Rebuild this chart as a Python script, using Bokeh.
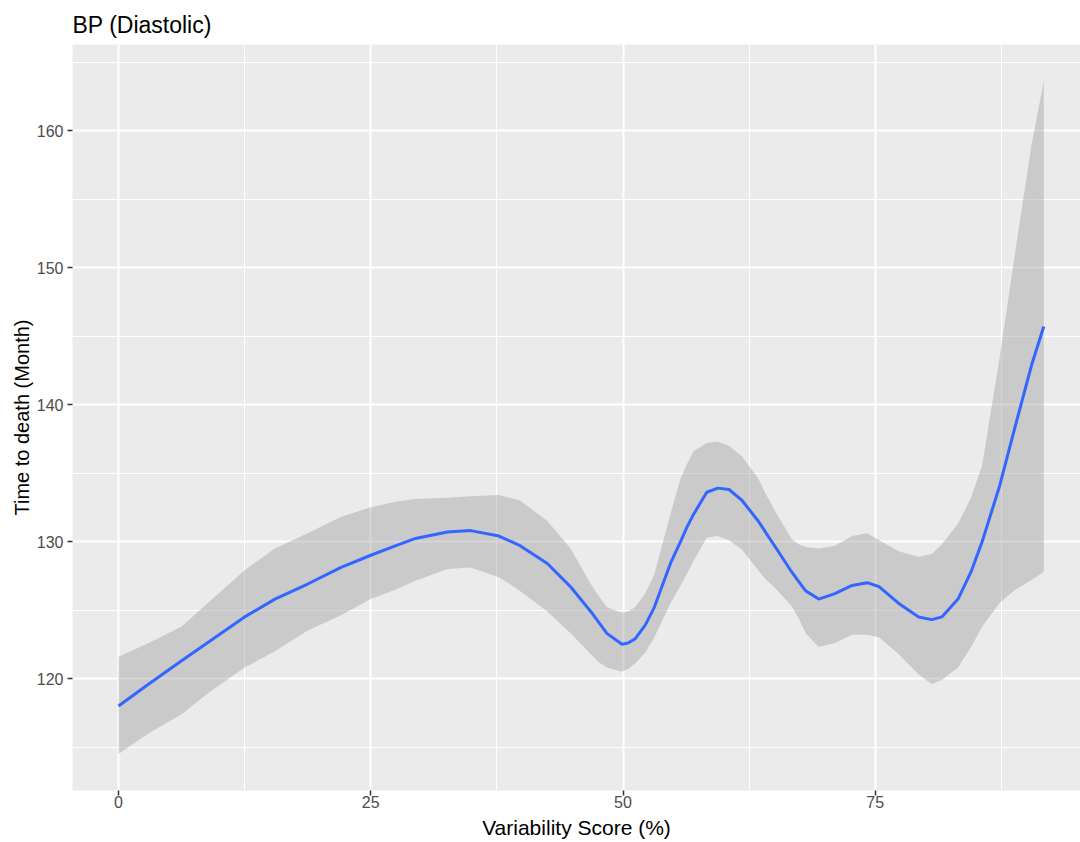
from bokeh.plotting import figure
from bokeh.models import Range1d, FixedTicker, ColumnDataSource
from bokeh.embed import file_html
from bokeh.resources import INLINE

# ---- data ----
variability = [0, 3, 6.25, 9, 12.5, 15.5, 18.75, 22, 25, 27.5, 29.3, 32.6, 34.9, 37.7,
               39.8, 42.5, 44.8, 46.8, 47.6, 48.4, 49.9, 50.5, 51.2, 52.2, 53.1, 54.7,
               55.7, 56.3, 57.0, 58.3, 59.4, 60.5, 61.8, 63.4, 64.2, 65.1, 66.7, 67.4,
               68.1, 69.4, 71.0, 72.7, 74.2, 75.4, 77.3, 79.3, 80.6, 81.6, 83.2, 84.5,
               85.6, 87.3, 88.9, 90.5, 91.7]
fit = [118.0, 119.6, 121.3, 122.7, 124.5, 125.8, 126.9, 128.1, 129.0, 129.7, 130.2,
       130.7, 130.8, 130.4, 129.7, 128.4, 126.7, 124.9, 124.1, 123.3, 122.5, 122.6,
       122.9, 123.9, 125.2, 128.4, 130.0, 131.0, 132.0, 133.6, 133.9, 133.8, 133.0,
       131.5, 130.6, 129.6, 127.8, 127.1, 126.4, 125.8, 126.2, 126.8, 127.0, 126.7,
       125.5, 124.5, 124.3, 124.5, 125.8, 127.8, 130.0, 134.0, 138.5, 142.9, 145.7]
lower = [114.5, 116.0, 117.4, 119.0, 120.8, 122.0, 123.5, 124.6, 125.8, 126.5, 127.1,
         128.0, 128.1, 127.4, 126.4, 124.9, 123.3, 121.8, 121.2, 120.8, 120.5, 120.7,
         121.1, 121.9, 123.0, 125.5, 126.8, 127.6, 128.6, 130.3, 130.4, 130.1, 129.4,
         127.9, 127.2, 126.6, 125.3, 124.4, 123.3, 122.3, 122.6, 123.2, 123.2, 123.0,
         121.8, 120.3, 119.6, 119.9, 120.8, 122.3, 123.8, 125.5, 126.5, 127.2, 127.8]
upper = [121.6, 122.6, 123.8, 125.6, 127.9, 129.5, 130.6, 131.8, 132.5, 132.9, 133.1,
         133.2, 133.3, 133.4, 133.0, 131.5, 129.5, 126.9, 126.0, 125.2, 124.8, 124.9,
         125.2, 126.2, 127.6, 132.0, 134.6, 135.6, 136.6, 137.2, 137.3, 137.0, 136.2,
         134.6, 133.4, 132.2, 130.2, 129.8, 129.6, 129.5, 129.7, 130.4, 130.6, 130.1,
         129.3, 128.9, 129.1, 129.8, 131.3, 133.2, 135.6, 143.3, 151.3, 159.0, 163.6]

x_ticks = [0, 25, 50, 75]
x_minor = [12.5, 37.5, 62.5, 87.5]
y_ticks = [120, 130, 140, 150, 160]
y_minor = [115, 125, 135, 145, 155, 165]

title_text = "BP (Diastolic)"
x_label = "Variability Score (%)"
y_label = "Time to death (Month)"

FONT = "Liberation Sans"

src = ColumnDataSource(dict(x=variability, fit=fit, lower=lower, upper=upper))

p = figure(width=1080, height=842,
           x_range=Range1d(-4.56, 95.34), y_range=Range1d(111.83, 166.28),
           output_backend="svg", toolbar_location=None,
           min_border_left=72, min_border_right=0, min_border_top=44, min_border_bottom=52)

p.background_fill_color = "#EBEBEB"
p.border_fill_color = "white"
p.outline_line_color = None

# title
p.title.text = title_text
p.title.align = "left"
p.title.text_font = FONT
p.title.text_font_size = "23px"
p.title.text_font_style = "normal"
p.title.text_color = "black"
p.title.text_baseline = "alphabetic"
p.title.standoff = 14

# axes
for ax in (p.xaxis[0], p.yaxis[0]):
    ax.axis_line_color = None
    ax.major_tick_line_color = "#333333"
    ax.major_tick_line_width = 1.5
    ax.major_tick_out = 5
    ax.major_tick_in = 0
    ax.minor_tick_line_color = None
    ax.major_label_text_font = FONT
    ax.major_label_text_font_size = "16px"
    ax.major_label_text_color = "#4D4D4D"
    ax.axis_label_text_font = FONT
    ax.axis_label_text_font_style = "normal"
    ax.axis_label_text_color = "black"

p.xaxis.axis_label_text_font_size = "21px"
p.yaxis.axis_label_text_font_size = "20px"
p.xaxis.ticker = FixedTicker(ticks=x_ticks, minor_ticks=x_minor)
p.yaxis.ticker = FixedTicker(ticks=y_ticks, minor_ticks=y_minor)
p.xaxis.axis_label = x_label
p.yaxis.axis_label = y_label
p.xaxis.major_label_standoff = 0
p.xaxis.axis_label_standoff = 5
p.yaxis.major_label_standoff = 4
p.yaxis.axis_label_standoff = 1

# grid
for g in (p.xgrid[0], p.ygrid[0]):
    g.grid_line_color = "white"
    g.grid_line_width = 2
    g.minor_grid_line_color = "white"
    g.minor_grid_line_width = 1

# ribbon and smooth line
p.varea(x="x", y1="lower", y2="upper", source=src, fill_color="#999999", fill_alpha=0.4)
p.line(x="x", y="fit", source=src, line_color="#3366FF", line_width=3)

open("out.html", "w").write(file_html(p, INLINE))
